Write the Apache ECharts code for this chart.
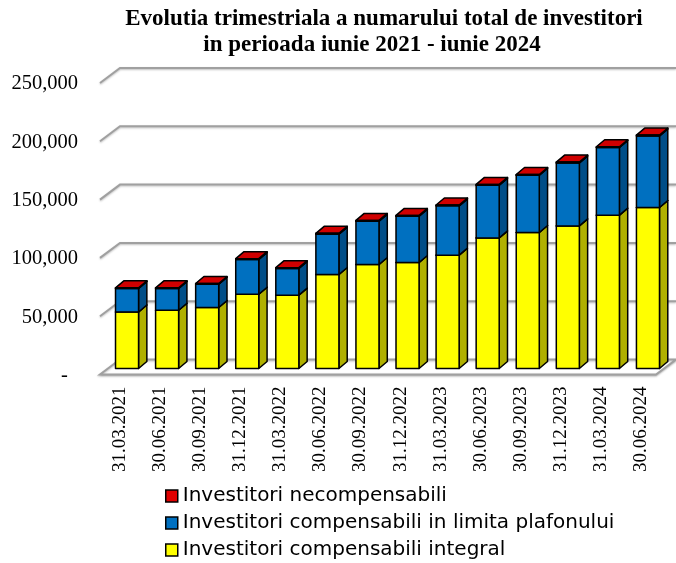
<!DOCTYPE html>
<html>
<head>
<meta charset="utf-8">
<script src="https://cdn.jsdelivr.net/npm/echarts@6/dist/echarts.min.js"></script>
<style>html,body{margin:0;padding:0;background:#fff}#c{width:676px;height:563px}</style>
</head>
<body>
<div id="c"></div>
<script>
const categories = ['31.03.2021','30.06.2021','30.09.2021','31.12.2021','31.03.2022','30.06.2022','30.09.2022','31.12.2022','31.03.2023','30.06.2023','30.09.2023','31.12.2023','31.03.2024','30.06.2024'];
const integral = [48500, 50000, 52300, 63700, 62900, 80600, 89200, 90900, 97200, 112000, 116600, 122300, 131500, 138100];
const plafon = [20100, 18600, 20000, 29800, 22900, 34600, 37100, 39700, 42300, 45200, 49100, 54000, 58000, 61400];
const necomp = [600, 600, 600, 700, 700, 700, 700, 700, 700, 700, 700, 700, 700, 700];
const yTicks = [0, 50000, 100000, 150000, 200000, 250000];
const yTickLabels = ['-  ', '50,000', '100,000', '150,000', '200,000', '250,000'];
const seriesNames = ['Investitori compensabili integral', 'Investitori compensabili in limita plafonului', 'Investitori necompensabili'];

const chart = echarts.init(document.getElementById('c'), null, {renderer: 'canvas'});

const DX = 8.3, DY = -7;
function barRender(front, side, top) {
  return function (params, api) {
    const i = api.value(0);
    const b = api.coord([i, api.value(1)]);
    const t = api.coord([i, api.value(2)]);
    const bw = api.size([1, 0])[0] * 0.575;
    const x0 = b[0] - bw / 2;
    const st = {stroke: '#000', lineWidth: 1.5, lineJoin: 'round'};
    return {
      type: 'group',
      children: [
        {type: 'polygon', shape: {points: [[x0 + bw, b[1]], [x0 + bw + DX, b[1] + DY], [x0 + bw + DX, t[1] + DY], [x0 + bw, t[1]]]}, style: Object.assign({fill: side}, st)},
        {type: 'polygon', shape: {points: [[x0, t[1]], [x0 + bw, t[1]], [x0 + bw + DX, t[1] + DY], [x0 + DX, t[1] + DY]]}, style: Object.assign({fill: top}, st)},
        {type: 'rect', shape: {x: x0, y: t[1], width: bw, height: b[1] - t[1]}, style: Object.assign({fill: front}, st)}
      ]
    };
  };
}

function stackData(vals, below) {
  return categories.map((c, i) => {
    let base = 0;
    below.forEach(arr => base += arr[i]);
    return [i, base, base + vals[i]];
  });
}

const WX = 20, WY = 15;
function wallRender(params, api) {
  const cs = params.coordSys;
  const v = api.value(1);
  const y = api.coord([0, v])[1];
  const gs = {stroke: '#a0a0a0', lineWidth: 2, fill: null, shadowColor: 'rgba(0,0,0,0.25)', shadowBlur: 2, shadowOffsetY: 1};
  if (v === 0) {
    return {type: 'polygon', shape: {points: [[cs.x - WX, y + WY], [cs.x + cs.width - WX, y + WY], [cs.x + cs.width, y], [cs.x, y]]},
      style: {fill: '#fff', stroke: '#a0a0a0', lineWidth: 2, shadowColor: 'rgba(0,0,0,0.25)', shadowBlur: 2, shadowOffsetY: 1}};
  }
  return {type: 'polyline', shape: {points: [[cs.x - WX, y + WY], [cs.x, y], [cs.x + cs.width, y]]}, style: gs};
}

const yBase = {type: 'value', min: 0, max: 250000, interval: 50000};

chart.setOption({
  animation: false,
  backgroundColor: '#fff',
  title: [
    {text: 'Evolutia trimestriala a numarului total de investitori', left: 379, top: 3, textAlign: 'center',
     textStyle: {fontFamily: 'Liberation Serif', fontWeight: 'bold', fontSize: 23, color: '#000'}},
    {text: 'in perioada iunie 2021 - iunie 2024', left: 367, top: 29, textAlign: 'center',
     textStyle: {fontFamily: 'Liberation Serif', fontWeight: 'bold', fontSize: 23, color: '#000'}}
  ],
  legend: {
    orient: 'vertical', left: 165, top: 486, height: 80, padding: 0, itemWidth: 12, itemHeight: 12, itemGap: 7,
    icon: 'rect',
    textStyle: {fontFamily: 'DejaVu Sans', fontSize: 20, color: '#000'},
    data: [
      {name: seriesNames[2], itemStyle: {color: '#E00000', borderColor: '#000', borderWidth: 1.5}},
      {name: seriesNames[1], itemStyle: {color: '#0070C0', borderColor: '#000', borderWidth: 1.5}},
      {name: seriesNames[0], itemStyle: {color: '#FFFF00', borderColor: '#000', borderWidth: 1.5}}
    ],
    selectedMode: false
  },
  grid: [
    {left: 120, top: 68, width: 561, height: 291.5},
    {left: 107, top: 77, width: 561, height: 291.5},
    {left: 100, top: 84, width: 561, height: 291.5}
  ],
  xAxis: [
    {type: 'category', data: categories, gridIndex: 0, show: false},
    {type: 'category', data: categories, gridIndex: 1, show: false},
    {type: 'category', data: categories, gridIndex: 2, axisLine: {show: false}, axisTick: {show: false},
     axisLabel: {rotate: 90, interval: 0, margin: 11, fontFamily: 'Liberation Serif', fontSize: 19, color: '#000'}}
  ],
  yAxis: [
    Object.assign({gridIndex: 0, show: false}, yBase),
    Object.assign({gridIndex: 1, show: false}, yBase),
    Object.assign({gridIndex: 2, splitLine: {show: false}, axisLine: {show: false}, axisTick: {show: false},
      axisLabel: {margin: 22, fontFamily: 'Liberation Serif', fontSize: 20.5, color: '#000',
        formatter: function (v) { return yTickLabels[yTicks.indexOf(v)]; }}}, yBase)
  ],
  series: [
    {type: 'custom', name: 'walls', xAxisIndex: 0, yAxisIndex: 0, data: yTicks.map(v => [0, v]), renderItem: wallRender, silent: true, z: 1},
    {type: 'custom', name: seriesNames[0], xAxisIndex: 1, yAxisIndex: 1, itemStyle: {color: '#FFFF00'},
     data: stackData(integral, []), renderItem: barRender('#FFFF00', '#B0B000', '#FFFF00'), z: 2},
    {type: 'custom', name: seriesNames[1], xAxisIndex: 1, yAxisIndex: 1, itemStyle: {color: '#0070C0'},
     data: stackData(plafon, [integral]), renderItem: barRender('#0070C0', '#004E88', '#0070C0'), z: 3},
    {type: 'custom', name: seriesNames[2], xAxisIndex: 1, yAxisIndex: 1, itemStyle: {color: '#E00000'},
     data: stackData(necomp, [integral, plafon]), renderItem: barRender('#E00000', '#900000', '#D00000'), z: 4}
  ]
});
</script>
</body>
</html>
